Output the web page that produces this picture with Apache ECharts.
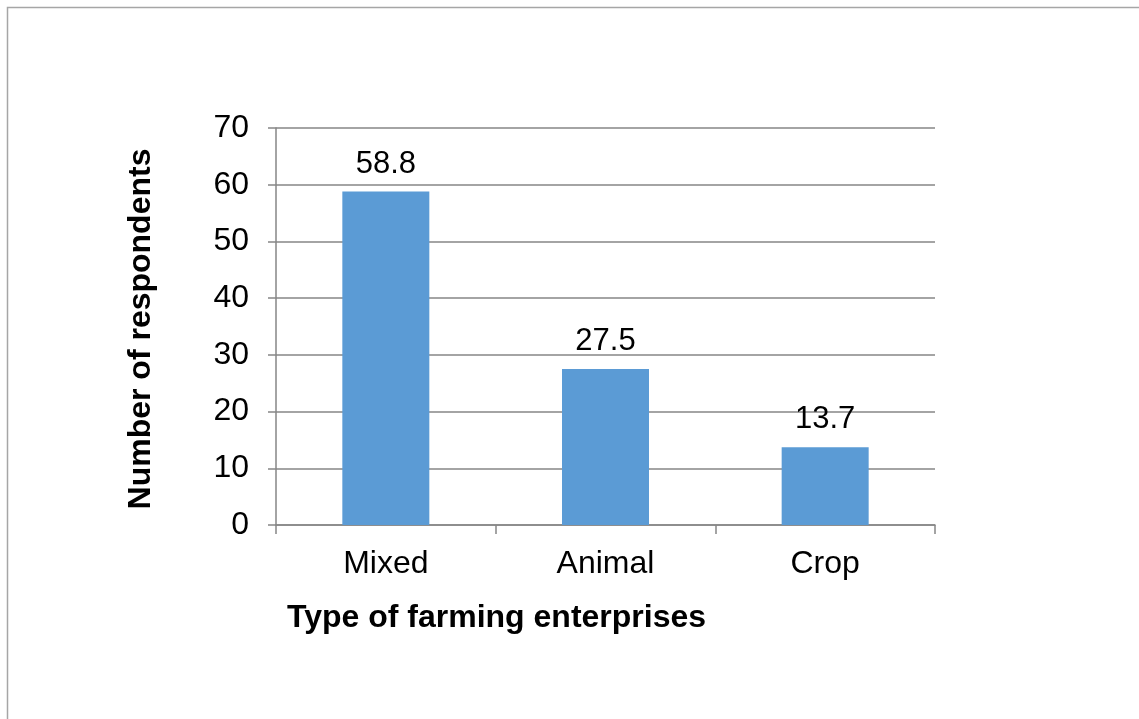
<!DOCTYPE html>
<html>
<head>
<meta charset="utf-8">
<script src="https://cdn.jsdelivr.net/npm/echarts@6/dist/echarts.min.js"></script>
<style>
  html, body { margin: 0; padding: 0; background: #fff; }
  #main { width: 1139px; height: 719px; }
</style>
</head>
<body>
<div id="main"></div>
<script>
// farming enterprise types and their share of respondents
var categories = ['Mixed', 'Animal', 'Crop'];
var values = [58.8, 27.5, 13.7];
var yTicks = [0, 10, 20, 30, 40, 50, 60, 70];

var font = '"Liberation Sans", Arial, sans-serif';
var chart = echarts.init(document.getElementById('main'));

chart.setOption({
  animation: false,
  backgroundColor: '#fff',
  grid: { left: 276, right: 204, top: 128, bottom: 194 },
  graphic: [
    {
      type: 'rect',
      shape: { x: 7.5, y: 7.5, width: 1200, height: 800 },
      style: { fill: 'none', stroke: '#a6a6a6', lineWidth: 1.5 },
      silent: true
    },
    {
      type: 'text',
      left: 287, top: 602,
      style: { text: 'Type of farming enterprises', font: 'bold 32px ' + font, fill: '#000' }
    },
    {
      type: 'text',
      x: 141, y: 329, rotation: Math.PI / 2,
      style: { text: 'Number of respondents', font: 'bold 32px ' + font, fill: '#000',
               align: 'center', verticalAlign: 'middle' }
    }
  ],
  xAxis: {
    type: 'category',
    data: categories,
    axisLine: { lineStyle: { color: '#868686', width: 1.5 } },
    axisTick: { show: true, length: 9, lineStyle: { color: '#868686', width: 1.5 } },
    axisLabel: { color: '#000', fontSize: 32, fontFamily: font, margin: 23 }
  },
  yAxis: {
    type: 'value',
    min: yTicks[0],
    max: yTicks[yTicks.length - 1],
    interval: 10,
    axisLine: { show: true, lineStyle: { color: '#868686', width: 1.5 } },
    axisTick: { show: true, length: 8, lineStyle: { color: '#868686', width: 1.5 } },
    axisLabel: { color: '#000', fontSize: 32, fontFamily: font, margin: 27 },
    splitLine: { lineStyle: { color: '#868686', width: 1.5 } }
  },
  series: [{
    type: 'bar',
    data: values,
    barWidth: 87,
    itemStyle: { color: '#5b9bd5' },
    label: {
      show: true, position: 'top', distance: 12,
      color: '#000', fontSize: 31, fontFamily: font
    }
  }]
});
</script>
</body>
</html>
